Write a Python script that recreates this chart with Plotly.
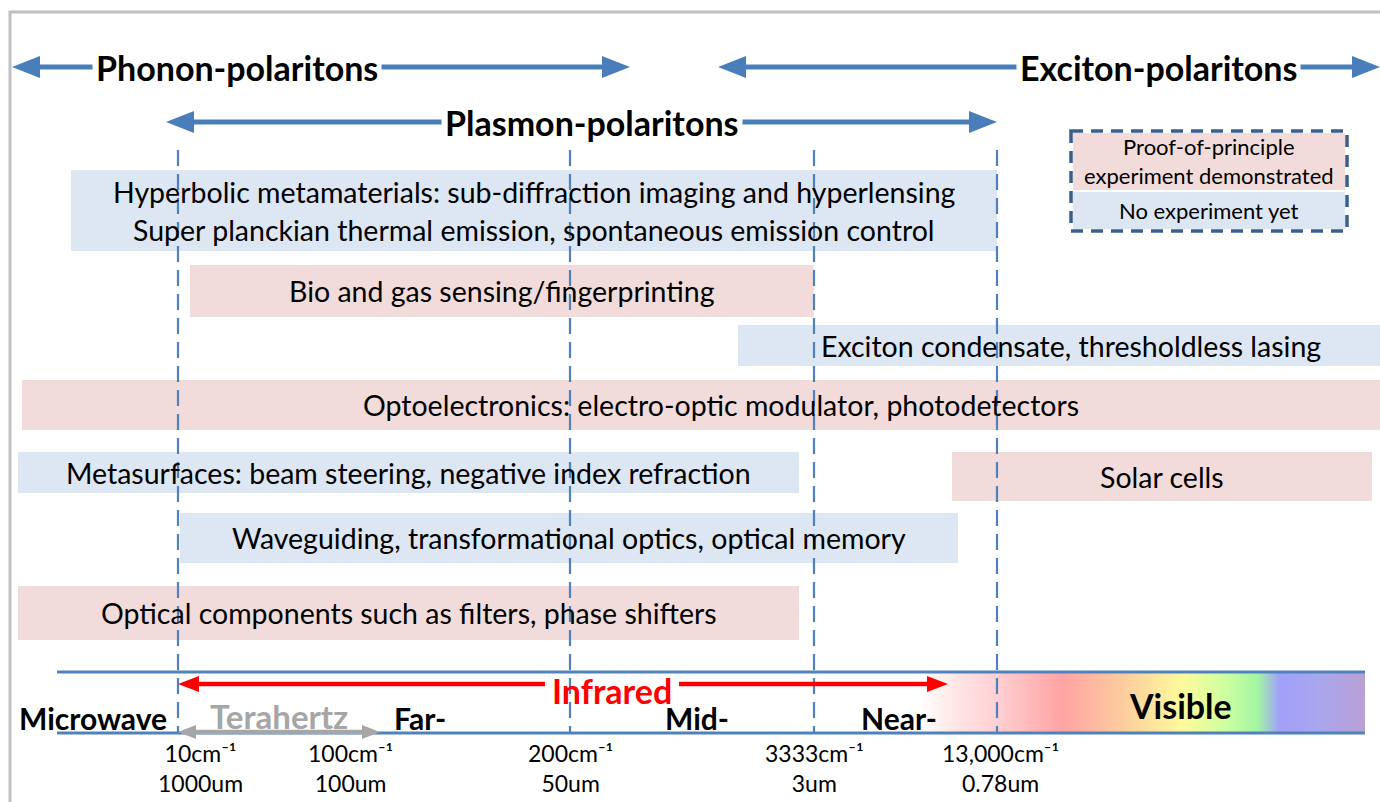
import plotly.graph_objects as go

# 座標：x 為光譜位置（圖面單位，左→右），y 為版面列位置（上→下）
W, H = 1380, 802

# ---- 區段邊界與刻度
region_bounds = [178, 570, 814, 997]
tick_pos = [200, 350, 570, 814, 1000]
tick_wavenumber = ["10cm⁻¹", "100cm⁻¹", "200cm⁻¹", "3333cm⁻¹", "13,000cm⁻¹"]
tick_wavelength = ["1000um", "100um", "50um", "3um", "0.78um"]

# ---- 極化子種類（上方雙箭頭）
polariton_names = ["Phonon-polaritons", "Plasmon-polaritons", "Exciton-polaritons"]
polariton_start = [12, 166, 718]
polariton_end = [630, 997, 1380]
polariton_row = [67, 122, 67]
polariton_label_x = [237, 592, 1158]

# ---- 應用條（demo=True：已有原理驗證實驗）
app_lines = [
    ["Hyperbolic metamaterials: sub-diffraction imaging and hyperlensing",
     "Super planckian thermal emission, spontaneous emission control"],
    ["Bio and gas sensing/fingerprinting"],
    ["Exciton condensate, thresholdless lasing"],
    ["Optoelectronics: electro-optic modulator, photodetectors"],
    ["Metasurfaces: beam steering, negative index refraction"],
    ["Solar cells"],
    ["Waveguiding, transformational optics, optical memory"],
    ["Optical components such as filters, phase shifters"],
]
app_start = [71, 190, 738, 22, 18, 952, 180, 18]
app_end = [997, 814, 1404, 1420, 799, 1372, 958, 799]
app_top = [170, 265, 325, 380, 452, 452, 513, 586]
app_bottom = [251, 317, 366, 430, 493, 501, 563, 640]
app_demo = [False, True, False, True, False, True, False, True]

# ---- 電磁波譜帶
band_names = ["Microwave", "Terahertz", "Far-", "Mid-", "Near-", "Visible"]
band_x = [93, 279, 420, 697, 899, 1180]
band_y = [718, 716, 718, 718, 718, 705]
spectrum_span = (57, 1365)
spectrum_rows = (672, 733)
infrared_span = (178, 948)
infrared_gap = (545, 679)
terahertz_span = (178, 380)

# 可見光漸層色標
grad_pos = [920, 960, 997, 1062, 1118, 1182, 1224, 1258, 1279, 1320, 1365]
grad_col = ["#ffffff", "#ffe3e3", "#ffd0d3", "#ffa3a3", "#fdc99e", "#fffa9c",
            "#cfffa0", "#a3f5a3", "#a0a0fa", "#aaa6ee", "#b9a0d4"]

# ---- 圖例
legend_labels = ["Proof-of-principle<br>experiment demonstrated", "No experiment yet"]

PINK = "rgba(233,197,195,0.6)"
BLUE = "rgba(200,215,235,0.62)"
C_ARROW = "#4a7ebb"
C_LINE = "#4f81bd"
C_RED = "#ff0000"
C_GRAY = "#a6a6a6"
FONT = "Lato"


def arrow_xy(x0, x1, y, shaft, hl, hh, start=True, end=True):
    """水平箭頭多邊形（可單/雙頭）"""
    pts = []
    if start:
        pts += [(x0, y), (x0 + hl, y - hh), (x0 + hl, y - shaft)]
    else:
        pts += [(x0, y - shaft)]
    if end:
        pts += [(x1 - hl, y - shaft), (x1 - hl, y - hh), (x1, y),
                (x1 - hl, y + hh), (x1 - hl, y + shaft)]
    else:
        pts += [(x1, y - shaft), (x1, y + shaft)]
    if start:
        pts += [(x0 + hl, y + shaft), (x0 + hl, y + hh), (x0, y)]
    else:
        pts += [(x0, y + shaft), (x0, y - shaft)]
    return [p[0] for p in pts], [p[1] for p in pts]


def poly(xy, color):
    return go.Scatter(x=xy[0], y=xy[1], mode="lines", fill="toself",
                      fillcolor=color, line=dict(width=0, color=color),
                      hoverinfo="skip", showlegend=False)


fig = go.Figure()

# 可見光漸層
g0, g1 = grad_pos[0], grad_pos[-1]
fig.add_trace(go.Scatter(
    x=[g0, g1, g1, g0, g0],
    y=[spectrum_rows[0], spectrum_rows[0], spectrum_rows[1], spectrum_rows[1], spectrum_rows[0]],
    mode="lines", fill="toself", line=dict(width=0),
    fillgradient=dict(type="horizontal",
                      colorscale=[[(p - g0) / (g1 - g0), c] for p, c in zip(grad_pos, grad_col)]),
    hoverinfo="skip", showlegend=False))

# 區段虛線
for xb in region_bounds:
    fig.add_trace(go.Scatter(x=[xb, xb], y=[150, spectrum_rows[1]], mode="lines",
                             line=dict(color=C_LINE, width=2.2, dash="16px,8px"),
                             hoverinfo="skip", showlegend=False))

# 應用條
for demo in (True, False):
    idx = [i for i in range(len(app_lines)) if app_demo[i] == demo]
    fig.add_trace(go.Bar(
        orientation="h",
        y=[(app_top[i] + app_bottom[i]) / 2 for i in idx],
        base=[app_start[i] for i in idx],
        x=[app_end[i] - app_start[i] for i in idx],
        width=[app_bottom[i] - app_top[i] for i in idx],
        marker=dict(color=PINK if demo else BLUE, line=dict(width=0)),
        hoverinfo="skip", showlegend=False))

# 光譜帶上下框線
for yy in spectrum_rows:
    fig.add_trace(go.Scatter(x=list(spectrum_span), y=[yy, yy], mode="lines",
                             line=dict(color=C_LINE, width=3),
                             hoverinfo="skip", showlegend=False))

# 上方極化子箭頭
for x0, x1, yy in zip(polariton_start, polariton_end, polariton_row):
    fig.add_trace(poly(arrow_xy(x0, x1, yy, 2.6, 28, 11), C_ARROW))

# 紅外線箭頭（中間留字）
fig.add_trace(poly(arrow_xy(infrared_span[0], infrared_gap[0], 684, 2.2, 21, 8,
                            start=True, end=False), C_RED))
fig.add_trace(poly(arrow_xy(infrared_gap[1], infrared_span[1], 684, 2.2, 21, 8,
                            start=False, end=True), C_RED))
# 太赫茲箭頭
fig.add_trace(poly(arrow_xy(terahertz_span[0], terahertz_span[1], 732, 2.2, 18, 7),
                   C_GRAY))

ann = []
for name, xc, yy in zip(polariton_names, polariton_label_x, polariton_row):
    ann.append(dict(x=xc, y=yy, text=name, bgcolor="white", borderpad=3,
                    font=dict(size=34, color="black", weight="bold")))

for i, lines in enumerate(app_lines):
    xc = (app_start[i] + app_end[i]) / 2
    yc = (app_top[i] + app_bottom[i]) / 2
    n = len(lines)
    for j, t in enumerate(lines):
        ann.append(dict(x=xc, y=yc + (j - (n - 1) / 2) * 38, text=t,
                        font=dict(size=28.5, color="black")))

for name, xc, yy in zip(band_names, band_x, band_y):
    size = {"Visible": 34, "Terahertz": 33}.get(name, 30)
    col = C_GRAY if name == "Terahertz" else "black"
    ann.append(dict(x=xc, y=yy, text=name,
                    font=dict(size=size, color=col, weight="bold")))

ann.append(dict(x=sum(infrared_gap) / 2, y=690, text="Infrared",
                font=dict(size=34, color=C_RED, weight="bold")))

# 刻度：波數 / 波長 兩行
for xp, wn, wl in zip(tick_pos, tick_wavenumber, tick_wavelength):
    ann.append(dict(x=xp, y=768, text=f"{wn}<br>{wl}",
                    font=dict(size=23, color="black")))

# 圖例
lx0, lx1 = 1071, 1347
ann.append(dict(x=(lx0 + lx1) / 2, y=161, text=legend_labels[0],
                font=dict(size=22, color="black")))
ann.append(dict(x=(lx0 + lx1) / 2, y=210, text=legend_labels[1],
                font=dict(size=22, color="black")))
for a in ann:
    a.update(xref="x", yref="y", showarrow=False)

shapes = [
    dict(type="rect", x0=10, y0=12, x1=W + 20, y1=H + 20,
         line=dict(color="#c0c0c0", width=3), layer="below"),
    dict(type="rect", x0=lx0 + 2, y0=133, x1=lx1 - 2, y1=190,
         fillcolor=PINK, line=dict(width=0)),
    dict(type="rect", x0=lx0 + 2, y0=192, x1=lx1 - 2, y1=229,
         fillcolor=BLUE, line=dict(width=0)),
    dict(type="rect", x0=lx0, y0=131, x1=lx1, y1=231,
         line=dict(color="#3a5f8c", width=3.5, dash="12px,8px")),
]

fig.update_layout(
    width=W, height=H,
    margin=dict(l=0, r=0, t=0, b=0),
    paper_bgcolor="white", plot_bgcolor="white",
    font=dict(family=FONT, color="black"),
    barmode="overlay", bargap=0,
    showlegend=False,
    xaxis=dict(range=[0, W], visible=False, fixedrange=True),
    yaxis=dict(range=[H, 0], visible=False, fixedrange=True),
    annotations=ann, shapes=shapes,
)

fig.write_html("out.html", config={"displayModeBar": False},
               post_script="document.body.style.margin='0px';")
